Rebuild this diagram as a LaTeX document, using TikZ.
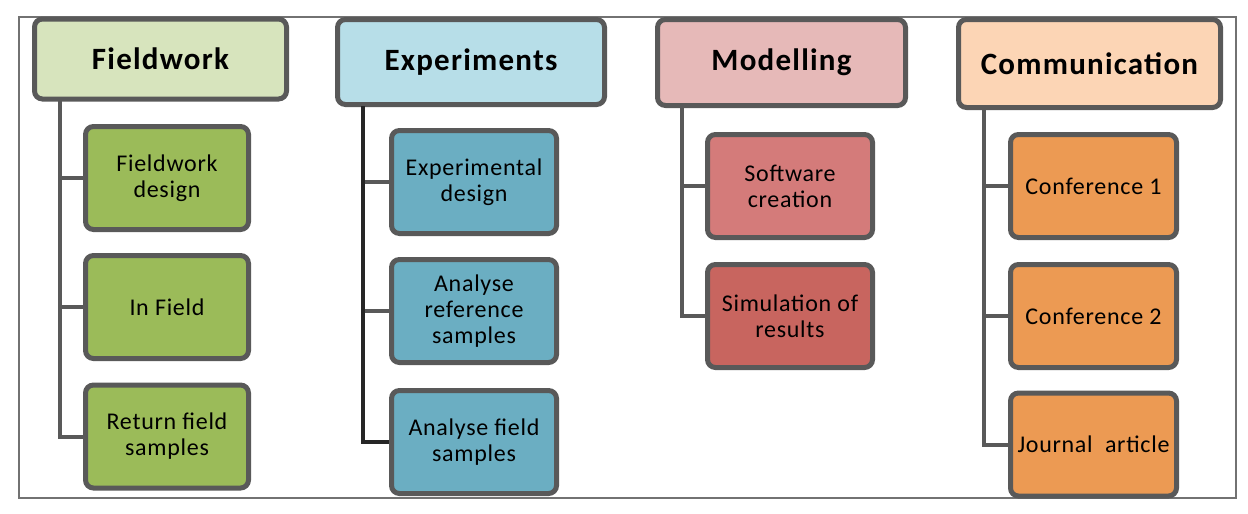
\documentclass[tikz,border=0pt]{standalone}
\usepackage{fontspec}
\setmainfont{Carlito}[LetterSpace=3]
\newfontfamily\headfont{Carlito}[LetterSpace=4]
\usetikzlibrary{positioning}

\definecolor{edge}{HTML}{595959}
\definecolor{trunkdark}{HTML}{262626}
\definecolor{fwlight}{HTML}{D7E4BD}
\definecolor{fwdark}{HTML}{9BBB59}
\definecolor{exlight}{HTML}{B7DEE8}
\definecolor{exdark}{HTML}{6BAEC2}
\definecolor{molight}{HTML}{E6B9B8}
\definecolor{modarkA}{HTML}{D47B7A}
\definecolor{modarkB}{HTML}{C8655F}
\definecolor{colight}{HTML}{FCD5B5}
\definecolor{codark}{HTML}{EC9A53}

\tikzset{
    head/.style={draw=edge, line width=5pt, rounded corners=8pt, align=center,
        inner sep=2pt, font=\headfont\bfseries\fontsize{31}{33}\selectfont},
    task/.style={draw=edge, line width=5pt, rounded corners=8pt, align=center,
        inner sep=2pt, minimum width=163pt, minimum height=103pt,
        font=\fontsize{24}{26}\selectfont},
    link/.style={draw=edge, line width=4pt},
}

\begin{document}
\begin{tikzpicture}[x=1pt,y=-1pt]
    \useasboundingbox (0,0) rectangle (1248,514);

    % thin outer frame
    \draw[edge!85, line width=1.3pt] (19,17) rectangle (1236,498);

    % the four column heads
    \node[head, fill=fwlight, minimum width=252pt, minimum height=80pt] (fw) at (160.5,59) {Fieldwork};
    \node[head, fill=exlight, minimum width=267pt, minimum height=85pt] (ex) at (471,62) {Experiments};
    \node[head, fill=molight, minimum width=248pt, minimum height=86pt] (mo) at (781.5,62.5) {Modelling};
    \node[head, fill=colight, minimum width=262pt, minimum height=88pt] (co) at (1089.5,63.5) {Communication};

    % tasks under each head
    \node[task, fill=fwdark] (fwA) at (167,178)   {Fieldwork\\design};
    \node[task, fill=fwdark] (fwB) at (167,307)   {In Field};
    \node[task, fill=fwdark] (fwC) at (167,436.5) {Return field\\samples};

    \node[task, fill=exdark, minimum width=165pt] (exA) at (474,182) {Experimental\\design};
    \node[task, fill=exdark, minimum width=165pt] (exB) at (474,311) {Analyse\\reference\\samples};
    \node[task, fill=exdark, minimum width=165pt] (exC) at (474,442) {Analyse field\\samples};

    \node[task, fill=modarkA, minimum width=165pt] (moA) at (790,186) {Software\\creation};
    \node[task, fill=modarkB, minimum width=165pt] (moB) at (790,316) {Simulation of\\results};

    \node[task, fill=codark, minimum width=166pt] (coA) at (1093.5,186)   {Conference 1};
    \node[task, fill=codark, minimum width=166pt] (coB) at (1093.5,316)   {Conference 2};
    \node[task, fill=codark, minimum width=166pt] (coC) at (1093.5,444.5) {Journal~~article};

    % top ends of the trunks, just under each head
    \coordinate (fwT) at (60,101);
    \coordinate (exT) at (363,106);
    \coordinate (moT) at (682,107);
    \coordinate (coT) at (984,109);

    % trunk and branches
    \foreach \t in {fwA,fwB,fwC}
        \draw[link] (fwT) |- (\t.west);
    \foreach \t in {exA,exB}
        \draw[link] (exT) |- (\t.west);
    \draw[link, draw=trunkdark] (exT) |- (exC.west);
    \foreach \t in {moA,moB}
        \draw[link] (moT) |- (\t.west);
    \foreach \t in {coA,coB,coC}
        \draw[link] (coT) |- (\t.west);
\end{tikzpicture}
\end{document}
